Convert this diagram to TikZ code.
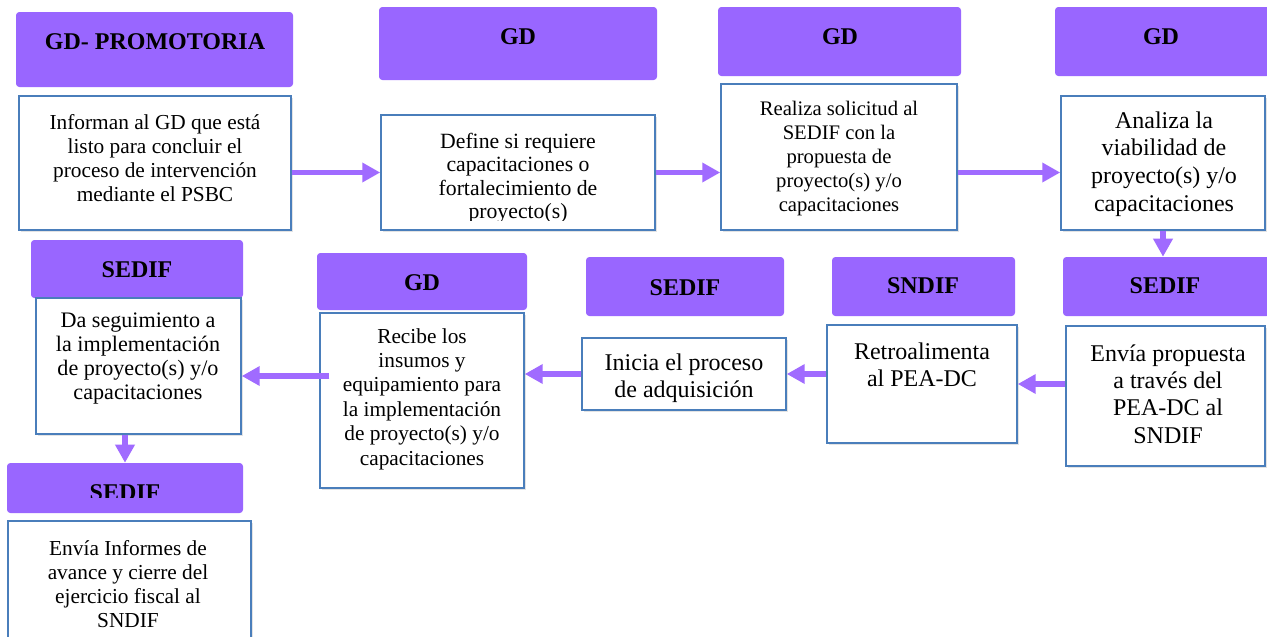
\documentclass[tikz,border=0pt]{standalone}
\usepackage{fontspec}
\setmainfont{Liberation Serif}
\usetikzlibrary{arrows.meta,fit,shadows,calc}
\definecolor{hdpurple}{HTML}{9966FF}
\definecolor{arrpurple}{HTML}{A06BFF}
\definecolor{boxblue}{HTML}{4A7EBB}
\tikzset{
  hdbox/.style={fill=hdpurple, rounded corners=2.5pt, inner sep=0pt},
  wbox/.style={draw=boxblue, line width=1.1pt, fill=white, inner sep=0pt,
    drop shadow={shadow xshift=1.8pt, shadow yshift=-1.8pt, opacity=0.22}},
  hdtext/.style={font=\fontsize{18}{20}\selectfont\bfseries, inner sep=0pt},
  txta/.style={align=center, inner sep=0pt, font=\fontsize{16}{18}\selectfont},
  txtb/.style={align=center, inner sep=0pt, font=\fontsize{18}{20.6}\selectfont},
  arr/.style={draw=arrpurple, line width=4.4pt, -{Triangle[length=13.5pt,width=14pt]}},
}
\begin{document}
\begin{tikzpicture}[x=0.75pt,y=-0.75pt]
\useasboundingbox (0,0) rectangle (1267,636);
\fill[white] (0,0) rectangle (1267,636);

% ---- header boxes
\node[hdbox, fit={(16,12) (293,87)}] (hA) {};
\node[hdbox, fit={(379,7) (657,80)}] (hB) {};
\node[hdbox, fit={(718,7) (961,76)}] (hC) {};
\node[hdbox, fit={(1055,7) (1270,76)}] (hD) {};
\node[hdbox, fit={(1063,257) (1270,316)}] (hE) {};
\node[hdbox, fit={(832,257) (1015,316)}] (hF) {};
\node[hdbox, fit={(586,257) (784,316)}] (hG) {};
\node[hdbox, fit={(317,253) (527,310)}] (hH) {};
\node[hdbox, fit={(31,240) (243,298)}] (hI) {};
\node[hdbox, fit={(7,463) (243,513)}] (hJ) {};

\node[hdtext] (thA) at (155,42) {GD- PROMOTORIA};
\node[hdtext] (thB) at (518,37) {GD};
\node[hdtext] (thC) at (840,37) {GD};
\node[hdtext] (thD) at (1161,37) {GD};
\node[hdtext] (thE) at (1165,286) {SEDIF};
\node[hdtext] (thF) at (923,286) {SNDIF};
\node[hdtext] (thG) at (685,288) {SEDIF};
\node[hdtext] (thH) at (422,283) {GD};
\node[hdtext] (thI) at (137,270) {SEDIF};
\begin{scope}
  \clip (7,463) rectangle (243,497);
  \node[hdtext] (thJ) at (125,493) {SEDIF};
\end{scope}

% ---- white boxes
\node[wbox, fit={(19,96) (291,230)}] (A) {};
\node[wbox, fit={(381,115) (655,230)}] (B) {};
\node[wbox, fit={(721,84) (957,230)}] (C) {};
\node[wbox, fit={(1061,96) (1265,230)}] (D) {};
\node[wbox, fit={(1066,326) (1265,466)}] (E) {};
\node[wbox, fit={(827,325) (1017,443)}] (F) {};
\node[wbox, fit={(582,338) (786,410)}] (G) {};
\node[wbox, fit={(320,313) (524,488)}] (H) {};
\node[wbox, fit={(36,298) (241,434)}] (I) {};
\node[wbox, fit={(8,521) (251,650)}] (J) {};

% ---- texts
\node[txta] (tA) at (155,158) {Informan al GD que está\\listo para concluir el\\proceso de intervención\\mediante el PSBC};
\begin{scope}
  \clip (381,115) rectangle (655,220);
  \node[txta, font=\fontsize{16.3}{17.6}\selectfont] (tB) at (518,178) {Define si requiere\\capacitaciones o\\fortalecimiento de\\proyecto(s)};
\end{scope}
\node[txta, font=\fontsize{15.5}{18}\selectfont] (tC) at (839,159) {Realiza solicitud al\\SEDIF con la\\propuesta de\\proyecto(s) y/o\\capacitaciones};
\node[txtb, font=\fontsize{18}{20.8}\selectfont] (tD) at (1164,164) {Analiza la\\viabilidad de\\proyecto(s) y/o\\capacitaciones};
\node[txtb] (tE) at (1168,394) {Envía propuesta\\a través del\\PEA-DC al\\SNDIF};
\node[txtb] (tF) at (922,365) {Retroalimenta\\al PEA-DC};
\node[txtb] (tG) at (684,378) {Inicia el proceso\\de adquisición};
\node[txta, font=\fontsize{16}{18.3}\selectfont] (tH) at (422,399) {Recibe los\\insumos y\\equipamiento para\\la implementación\\de proyecto(s) y/o\\capacitaciones};
\node[txta, font=\fontsize{16.6}{18}\selectfont] (tI) at (138,359) {Da seguimiento a\\la implementación\\de proyecto(s) y/o\\capacitaciones};
\node[txta] (tJ) at (128,584) {Envía Informes de\\avance y cierre del\\ejercicio fiscal al\\SNDIF};

% ---- connectors
\draw[arr] (A.east |- B.center) -- (B.west);
\draw[arr] (B.east) -- (B.east -| C.west);
\draw[arr] (C.east |- B.center) -- (D.west |- B.center);
\draw[arr] (D.south) -- (D.south |- hE.north);
\draw[arr] (E.west |- F.center) -- (F.east);
\draw[arr] (F.west |- G.center) -- (G.east);
\draw[arr] (G.west) -- (G.west -| H.east);
\draw[arr] ($(H.west |- G.west)+(10,2)$) -- ($(I.east |- G.west)+(0,2)$);
\draw[arr] (I.south -| hJ.north) -- (hJ.north);
\end{tikzpicture}
\end{document}
